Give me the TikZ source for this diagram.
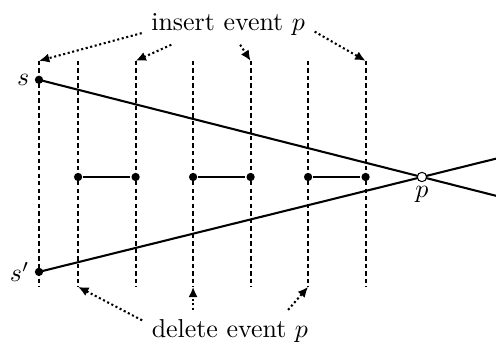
\documentclass[tikz,border=0pt]{standalone}
\usepackage{amsmath}
\usetikzlibrary{calc,arrows.meta}

\begin{document}
\begin{tikzpicture}[x=0.78cm, y=0.78cm, thick,
    sweep/.style={dash pattern=on 1.7pt off 1.2pt},
    evarrow/.style={densely dotted, -{Latex[length=4pt, width=3.6pt]}},
    pt/.style={circle, fill, inner sep=0pt, minimum size=3.2pt}]
  \useasboundingbox (-0.678, -2.991) rectangle (7.948, 3.078);
  % sweep lines at the event points
  \foreach \i/\x in {0/0, 1/0.68, 2/1.68, 3/2.68, 4/3.68, 5/4.68, 6/5.68} {
    \coordinate (t\i) at (\x, 2.02);
    \coordinate (b\i) at (\x, -1.91);
    \draw[sweep] (t\i) -- (b\i);
  }

  \coordinate (s)  at (0, 1.69);
  \coordinate (s') at (0, -1.65);
  \coordinate (p)  at (6.66, 0);
  \draw (s)  -- ($(s)!1.194!(p)$);
  \draw (s') -- ($(s')!1.194!(p)$);

  % horizontal segments
  \foreach \a/\b in {1/2, 3/4, 5/6} {
    \node[pt] (l\a) at (b\a |- p) {};
    \node[pt] (r\b) at (b\b |- p) {};
    \draw (l\a) -- (r\b);
  }

  \node[pt] at (s) {};
  \node[pt] at (s') {};
  \node[circle, draw, fill=white, thin, inner sep=0pt, minimum size=3.6pt] at (p) {};

  \node[left]  at (s)  {$s$};
  \node[left]  at (s') {$s'$};
  \node[below] at (p)  {$p$};

  \node (insert) at (3.29, 2.66) {insert event $p$};
  \node (delete) at (3.32, -2.68) {delete event $p$};

  \draw[evarrow] (insert.186) -- (t0);
  \draw[evarrow] (insert.200) -- (t2);
  \draw[evarrow] (insert.300) -- (t4);
  \draw[evarrow] (insert.355) -- (t6);

  \draw[evarrow] (delete.173) -- (b1);
  \draw[evarrow] (delete.north -| b3) -- (b3);
  \draw[evarrow] (delete.20) -- (b5);
\end{tikzpicture}
\end{document}
